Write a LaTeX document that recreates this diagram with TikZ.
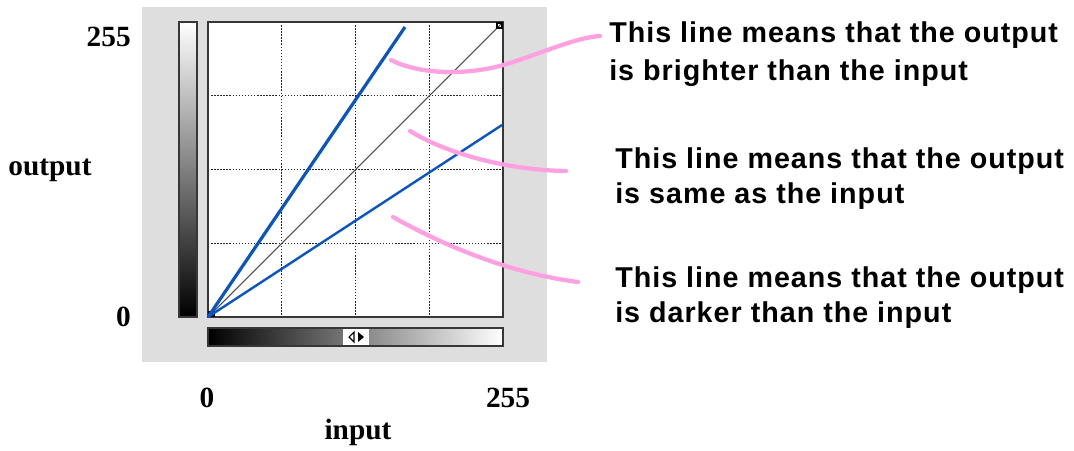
\documentclass[tikz,border=0pt]{standalone}
\usepackage{fontspec}
\setmainfont{Liberation Serif}
\newfontfamily\notefont[LetterSpace=3.5]{Liberation Sans}
\usepackage{tikz}
\definecolor{panelgray}{RGB}{222, 222, 222}
\definecolor{toneblue}{RGB}{10, 85, 196}
\definecolor{leadpink}{RGB}{255, 160, 225}
\definecolor{framegray}{RGB}{55, 55, 55}

\begin{document}
\begin{tikzpicture}[
    x=0.75pt, y=-0.75pt,
    axis/.style={font=\fontsize{22}{26}\selectfont\bfseries, inner sep=0pt},
    note/.style={font=\notefont\fontsize{21.5}{26}\selectfont\bfseries, anchor=base west, inner sep=0pt},
    gridline/.style={black!85, line width=1.1pt, dash pattern=on 1.1pt off 1.2pt},
    toneline/.style={toneblue, line width=1.8pt},
    leadline/.style={leadpink, line width=3.2pt, line cap=round},
    barframe/.style={draw=framegray, line width=1pt}
]
    \useasboundingbox (0,0) rectangle (1074,450);

    % dialog panel
    \fill[panelgray] (142,7) rectangle (547,362);

    % output ramp and input ramp
    \draw[barframe, top color=white, bottom color=black] (179,22) rectangle (197,317);
    \draw[barframe, left color=black, right color=white] (208,328) rectangle (503,346);
    \fill[white] (343,329) rectangle (369,345);
    \draw[black, line width=0.8pt] (354,332) -- (349,337) -- (354,342) -- cycle;
    \fill[black] (358,332) -- (364,337) -- (358,342) -- cycle;

    % curve area
    \coordinate (origin) at (208,317);
    \coordinate (corner) at (503,22);
    \fill[white] (origin) rectangle (corner);
    \foreach \i in {1,2,3} {
        \draw[gridline] (208+73.75*\i,22) -- (208+73.75*\i,317);
        \draw[gridline] (208,22+73.75*\i) -- (503,22+73.75*\i);
    }
    \draw[framegray, line width=1.5pt] (origin) rectangle (corner);
    \draw[black!70, line width=0.8pt] (origin) -- (corner);
    \draw[black, line width=0.8pt] (497,23) rectangle (502,28);
    \draw[black, line width=0.8pt] (209,312) rectangle (214,316);

    \coordinate (brightEnd) at (405,27);
    \coordinate (darkEnd) at (502,125);
    \draw[toneline, line width=2.4pt] (origin) -- (brightEnd);
    \draw[toneline] (origin) -- (darkEnd);

    % axis labels
    \node[axis, anchor=east] (outHigh) at (131,37) {255};
    \node[axis, anchor=east] (outLow) at (131,317) {0};
    \node[axis] (outLabel) at (50,170) {output};
    \node[axis] (inLow) at (207,398) {0};
    \node[axis] (inHigh) at (508,398) {255};
    \node[axis] (inLabel) at (358,432) {input};

    % notes
    \node[note] (brightA) at (609,42) {This line means that the output};
    \node[note] (brightB) at (609,80) {is brighter than the input};
    \node[note] (sameA) at (615,168) {This line means that the output};
    \node[note] (sameB) at (615,203) {is same as the input};
    \node[note] (darkA) at (615,287) {This line means that the output};
    \node[note] (darkB) at (615,322) {is darker than the input};

    % pink leaders
    \coordinate (brightTip) at (391,60);
    \coordinate (brightTail) at (600,36);
    \coordinate (sameTip) at (410,131);
    \coordinate (sameTail) at (566,171);
    \coordinate (darkTip) at (393,217);
    \coordinate (darkTail) at (578,282);
    \draw[leadline] (brightTip) .. controls (420,75) and (470,76) .. (510,63)
        .. controls (550,50) and (575,38) .. (brightTail);
    \draw[leadline] (sameTip) .. controls (440,150) and (500,170) .. (sameTail);
    \draw[leadline] (darkTip) .. controls (430,238) and (500,272) .. (darkTail);
\end{tikzpicture}
\end{document}
